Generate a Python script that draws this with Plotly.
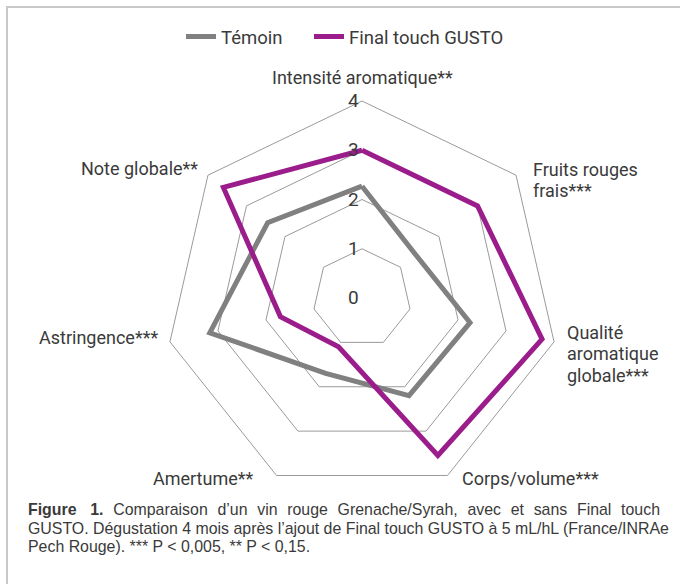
import plotly.graph_objects as go

categories = [
    "Intensité aromatique**",
    "Fruits rouges<br>frais***",
    "Qualité<br>aromatique<br>globale***",
    "Corps/volume***",
    "Amertume**",
    "Astringence***",
    "Note globale**",
]
temoin = [2.27, 1.4, 2.25, 2.2, 1.7, 3.17, 2.45]
gusto = [3.0, 3.0, 3.75, 3.55, 1.1, 1.7, 3.6]
series_names = ["Témoin", "Final touch GUSTO"]
radial_ticks = [0, 1, 2, 3, 4]

GREY = "#808080"
PURPLE = "#9a1d8b"
TEXT = "#3a3a3a"
LABEL_FONT = "Roboto, Liberation Sans, sans-serif"
CAP_FONT = "Liberation Sans, Arial, sans-serif"
W, H = 680, 584

fig = go.Figure()
for name, vals, col, lg in [(series_names[0], temoin, GREY, "legend"),
                            (series_names[1], gusto, PURPLE, "legend2")]:
    fig.add_trace(go.Scatterpolar(
        r=vals + vals[:1],
        theta=categories + categories[:1],
        mode="lines",
        name=name,
        legend=lg,
        line=dict(color=col, width=5),
    ))

legend_style = dict(
    orientation="h", xanchor="left", y=1 - 37 / H, yanchor="middle",
    font=dict(family=LABEL_FONT, size=18.5, color=TEXT),
    itemwidth=30, bgcolor="rgba(0,0,0,0)",
)

fig.update_layout(
    width=W, height=H,
    margin=dict(l=0, r=0, t=0, b=0, autoexpand=False),
    paper_bgcolor="white",
    plot_bgcolor="white",
    showlegend=True,
    legend=dict(x=181 / W, **legend_style),
    legend2=dict(x=309 / W, **legend_style),
    polar=dict(
        domain=dict(x=[165 / W, 559 / W], y=[1 - 495 / H, 1 - 101 / H]),
        bgcolor="white",
        gridshape="linear",
        angularaxis=dict(
            rotation=90, direction="clockwise",
            showgrid=False, showline=True, linecolor="#9a9a9a", linewidth=1,
            ticks="", showticklabels=False,
        ),
        radialaxis=dict(
            range=[0, 4], tickvals=radial_ticks, angle=90, side="counterclockwise",
            tickangle=90,
            showline=False, showgrid=True, gridcolor="#9a9a9a", gridwidth=1,
            ticks="", tickfont=dict(family=LABEL_FONT, size=19, color=TEXT),
        ),
    ),
)

# category labels (one annotation per text line for tight line spacing)
label_layout = [  # (x, first-line y, xanchor) in pixels
    (362, 77, "center"),
    (531, 169, "left"),
    (565, 332, "left"),
    (460, 478, "left"),
    (256, 478, "right"),
    (160, 337, "right"),
    (200, 168, "right"),
]
LINE_STEP = 21.5
for cat, (px, py, anchor) in zip(categories, label_layout):
    for i, part in enumerate(cat.split("<br>")):
        fig.add_annotation(
            text=part, xref="paper", yref="paper", x=px / W, y=1 - (py + i * LINE_STEP) / H,
            xanchor=anchor, yanchor="middle", showarrow=False,
            font=dict(family=LABEL_FONT, size=18, color=TEXT),
        )

sp = " \u2005\u200a"
line1_words = ["Comparaison", "d’un", "vin", "rouge", "Grenache/Syrah,", "avec", "et", "sans", "Final", "touch"]
cap_lines = [
    "<b>Figure" + sp + "\u2005" + "1.</b>" + sp + sp.join(line1_words),
    "GUSTO. Dégustation 4 mois après l’ajout de Final touch GUSTO à 5 mL/hL (France/INRAe",
    "Pech Rouge). *** P < 0,005, ** P < 0,15.",
]
cap_y = [509, 528, 546]
for txt, yy in zip(cap_lines, cap_y):
    fig.add_annotation(
        text=txt, xref="paper", yref="paper", x=26 / W, y=1 - yy / H,
        xanchor="left", yanchor="middle", showarrow=False,
        font=dict(family=CAP_FONT, size=15.9, color=TEXT),
    )

fig.add_shape(type="rect", xref="paper", yref="paper",
              x0=7 / W, x1=700 / W, y0=1 - 610 / H, y1=1 - 7 / H,
              line=dict(color="#c8c8c8", width=2))

fig.write_html("out.html", config={"displayModeBar": False},
               post_script="document.body.style.margin='0';")
